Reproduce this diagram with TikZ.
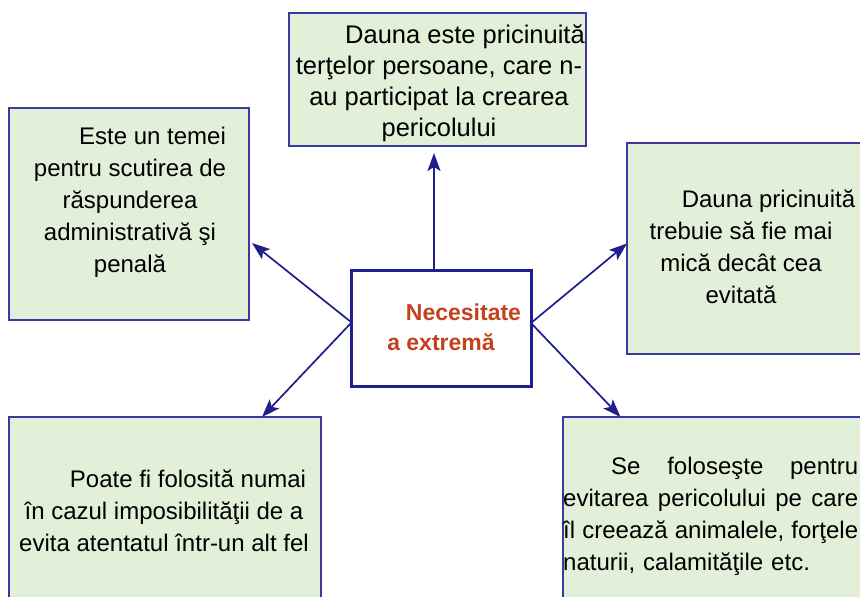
\documentclass[tikz,border=0pt]{standalone}
\usepackage{fontspec}
\setmainfont{Liberation Sans}
\usetikzlibrary{arrows.meta}
\definecolor{boxfill}{HTML}{E2EFD9}
\definecolor{boxline}{HTML}{3A3A9E}
\definecolor{navy}{HTML}{1E1E8C}
\definecolor{titlered}{HTML}{C4411E}
\begin{document}
\begin{tikzpicture}[x=1pt,y=-1pt,
  greenbox/.style={draw=boxline, line width=1.5pt, fill=boxfill, inner sep=0pt, outer sep=0pt},
  centerbox/.style={draw=navy, line width=3pt, fill=white, inner sep=0pt, outer sep=0pt},
  txt/.style={font=\fontsize{24}{32}\selectfont, align=center, inner sep=0pt},
  titletxt/.style={font=\fontsize{23}{30}\selectfont\bfseries, text=titlered, align=center, inner sep=0pt},
  arr/.style={draw=navy, line width=1.7pt, -{Stealth[length=18pt,width=13pt,inset=4pt]}},
]
\useasboundingbox (0,0) rectangle (860,597);
\clip (0,0) rectangle (860,597);
\fill[white] (0,0) rectangle (860,597);

\node[greenbox, minimum width=297pt, minimum height=133pt] (T) at (437.5,79.5) {};
\node[greenbox, minimum width=240pt, minimum height=212pt] (L) at (129,214) {};
\node[greenbox, minimum width=243pt, minimum height=211pt] (R) at (748.5,248.5) {};
\node[centerbox, minimum width=180pt, minimum height=116pt] (C) at (441,328) {};
\node[greenbox, minimum width=312pt, minimum height=193pt] (BL) at (165,513.5) {};
\node[greenbox, minimum width=307pt, minimum height=193pt] (BR) at (716.5,513.5) {};

\node[txt, font=\fontsize{25.5}{31}\selectfont] (Tt) at (439,83) {\hspace*{52pt}Dauna este pricinuită\\terţelor persoane, care n-\\au participat la crearea\\pericolului};
\node[txt] (Lt) at (130,202) {\hspace*{45pt}Este un temei\\pentru scutirea de\\răspunderea\\administrativă şi\\penală};
\node[txt] (Rt) at (741,247) {\hspace*{55pt}Dauna pricinuită\\trebuie să fie mai\\mică decât cea\\evitată};
\node[titletxt] (Ct) at (441,327) {\hspace*{45pt}Necesitate\\a extremă};
\node[txt] (BLt) at (164,510.5) {\hspace*{48pt}Poate fi folosită numai\\în cazul imposibilităţii de a\\evita atentatul într-un alt fel};
\node[txt, align=left, text width=295pt, anchor=west] (BRt) at (563,516) {\hspace*{48pt}Se\hfill foloseşte\hfill pentru\\evitarea\hfill pericolului\hfill pe\hfill care\\îl\hfill creează\hfill animalele,\hfill forţele\\naturii, calamităţile etc.};

\draw[arr] ([xshift=-7pt]C.north) -- ([xshift=-3.5pt,yshift=-7pt]T.south);
\draw[arr] ([yshift=6pt]C.west) -- ([xshift=3pt,yshift=-29pt]L.east);
\draw[arr] ([yshift=5pt]C.east) -- ([yshift=5pt]R.west);
\draw[arr] ([yshift=5pt]C.west) -- ([xshift=97pt]BL.north);
\draw[arr] ([yshift=5pt]C.east) -- ([xshift=-96pt]BR.north);
\end{tikzpicture}
\end{document}
